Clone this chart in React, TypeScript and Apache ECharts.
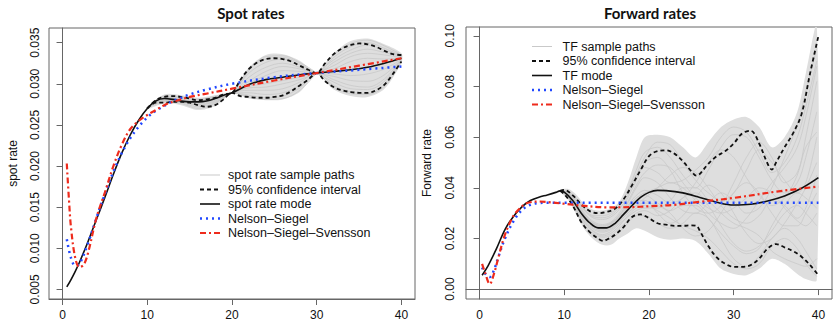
import React, { useEffect, useRef } from "react";
import * as echarts from "echarts";

// ---------------- Spot rates panel ----------------
const xTicks = [0, 10, 20, 30, 40];
const spotYTicks = [0.005, 0.01, 0.015, 0.02, 0.025, 0.03, 0.035];
const fwdYTicks = [0, 0.02, 0.04, 0.06, 0.08, 0.1];

const spotModeX = [0.5, 1, 1.5, 2, 3, 4, 5, 6, 7, 8, 9, 10, 11, 12, 13, 14, 15, 16, 17, 18, 19, 20, 22, 24, 26, 28, 30, 32, 34, 36, 38, 40];
const spotModeY = [0.0053, 0.0062, 0.0072, 0.0083, 0.0108, 0.0135, 0.0162, 0.019, 0.0216, 0.0238, 0.0256, 0.027, 0.0279, 0.0282, 0.0281, 0.0279, 0.0278, 0.0278, 0.0279, 0.0282, 0.0286, 0.0289, 0.0299, 0.0305, 0.0308, 0.0311, 0.0313, 0.0315, 0.0317, 0.032, 0.0325, 0.0331];

const spotCIX = [10, 11, 12, 13, 14, 15, 16, 17, 18, 19, 20, 21, 22, 23, 24, 25, 26, 27, 28, 29, 30, 31, 32, 33, 34, 35, 36, 37, 38, 39, 40];
const spotCIUpper = [0.027, 0.028, 0.0284, 0.0285, 0.0284, 0.0282, 0.028, 0.0281, 0.0283, 0.0287, 0.0289, 0.0305, 0.0318, 0.0326, 0.033, 0.0331, 0.033, 0.0327, 0.0322, 0.0317, 0.0313, 0.0325, 0.0336, 0.0343, 0.0347, 0.0349, 0.0348, 0.0345, 0.034, 0.0336, 0.0335];
const spotCILower = [0.027, 0.0277, 0.0277, 0.0278, 0.0278, 0.0277, 0.0274, 0.0272, 0.0274, 0.0281, 0.0289, 0.0285, 0.0284, 0.0283, 0.0283, 0.0284, 0.0286, 0.0291, 0.0298, 0.0305, 0.0313, 0.0303, 0.0296, 0.0292, 0.029, 0.0289, 0.0289, 0.0292, 0.0299, 0.0312, 0.0327];

const spotNSX = [0.5, 1, 1.5, 2, 3, 4, 5, 6, 7, 8, 9, 10, 11, 12, 13, 14, 15, 17, 20, 25, 30, 35, 40];
const spotNSY = [0.0111, 0.0088, 0.0079, 0.0081, 0.0106, 0.0137, 0.0166, 0.0193, 0.0216, 0.0234, 0.0248, 0.0259, 0.0267, 0.0273, 0.0279, 0.0283, 0.0287, 0.0293, 0.03, 0.0308, 0.0313, 0.0317, 0.0321];

const spotNSSX = [0.5, 0.75, 1, 1.5, 2, 2.5, 3, 4, 5, 6, 7, 8, 9, 10, 11, 12, 13, 14, 15, 17, 20, 25, 30, 35, 40];
const spotNSSY = [0.0203, 0.016, 0.0125, 0.0088, 0.0077, 0.008, 0.0094, 0.0137, 0.0168, 0.02, 0.0226, 0.0245, 0.0255, 0.0262, 0.0268, 0.0274, 0.0278, 0.0281, 0.0284, 0.0288, 0.0294, 0.0304, 0.0313, 0.0322, 0.0331];

// sample paths (grid of maturities)
const spotSampleX = [10, 12, 14, 16, 18, 20, 22, 24, 26, 28, 30, 32, 34, 36, 38, 40];
const spotEnvUpper = [0.0271, 0.0287, 0.0286, 0.0283, 0.0286, 0.029, 0.032, 0.0335, 0.0336, 0.0328, 0.0314, 0.0337, 0.0352, 0.0355, 0.0348, 0.0337];
const spotEnvLower = [0.0269, 0.0276, 0.0274, 0.0268, 0.0273, 0.0288, 0.0282, 0.028, 0.0281, 0.029, 0.0312, 0.0293, 0.0285, 0.0284, 0.0294, 0.0326];
const spotS1 = [0.027, 0.0285, 0.0284, 0.0281, 0.0284, 0.0289, 0.0318, 0.033, 0.0332, 0.0325, 0.0313, 0.0332, 0.0345, 0.035, 0.0343, 0.0334];
const spotS2 = [0.027, 0.0278, 0.0276, 0.027, 0.0276, 0.0289, 0.0286, 0.0283, 0.0285, 0.0295, 0.0313, 0.0298, 0.029, 0.0288, 0.03, 0.0328];
const spotS3 = [0.027, 0.0283, 0.0282, 0.0279, 0.0283, 0.0289, 0.0308, 0.032, 0.0325, 0.032, 0.0313, 0.0326, 0.0337, 0.0342, 0.0338, 0.0333];
const spotS4 = [0.027, 0.028, 0.0278, 0.0274, 0.0279, 0.0289, 0.0292, 0.0292, 0.0294, 0.0302, 0.0313, 0.0305, 0.0298, 0.0296, 0.0306, 0.033];
const spotS5 = [0.027, 0.0282, 0.028, 0.0277, 0.0281, 0.0289, 0.03, 0.031, 0.0316, 0.0315, 0.0313, 0.0318, 0.0327, 0.0331, 0.033, 0.0332];
const spotS6 = [0.027, 0.0281, 0.0279, 0.0276, 0.028, 0.0289, 0.0297, 0.03, 0.0304, 0.0308, 0.0313, 0.0312, 0.031, 0.0312, 0.0318, 0.033];
const spotS7 = [0.027, 0.0284, 0.0281, 0.0275, 0.0278, 0.0289, 0.0313, 0.0326, 0.033, 0.0323, 0.0313, 0.0302, 0.0294, 0.0293, 0.0303, 0.0329];
const spotS8 = [0.027, 0.0279, 0.0279, 0.028, 0.0285, 0.0289, 0.0289, 0.0287, 0.0289, 0.0298, 0.0313, 0.0329, 0.0341, 0.0347, 0.0341, 0.0333];
const spotS9 = [0.027, 0.0282, 0.0283, 0.0281, 0.0282, 0.0289, 0.0303, 0.0315, 0.0321, 0.0318, 0.0313, 0.0309, 0.0304, 0.0303, 0.0311, 0.033];
const spotS10 = [0.027, 0.028, 0.0277, 0.0272, 0.0277, 0.0289, 0.0295, 0.0296, 0.03, 0.0305, 0.0313, 0.0322, 0.0333, 0.0337, 0.0335, 0.0332];
const spotS11 = [0.027, 0.0283, 0.0281, 0.0278, 0.0282, 0.0289, 0.0284, 0.0281, 0.0282, 0.0292, 0.0313, 0.0335, 0.0349, 0.0353, 0.0346, 0.0335];
const spotS12 = [0.027, 0.0281, 0.028, 0.0279, 0.0283, 0.0289, 0.0316, 0.0333, 0.0334, 0.0326, 0.0313, 0.0296, 0.0288, 0.0287, 0.0297, 0.0327];
const spotSamples = [spotS1, spotS2, spotS3, spotS4, spotS5, spotS6, spotS7, spotS8, spotS9, spotS10, spotS11, spotS12];

// ---------------- Forward rates panel ----------------
const fwdModeX = [0.3, 1, 2, 3, 4, 5, 6, 7, 8, 9, 9.5, 10, 11, 12, 13, 14, 15, 16, 17, 18, 19, 20, 21, 22, 24, 26, 28, 30, 32, 34, 36, 38, 40];
const fwdModeY = [0.0055, 0.0092, 0.016, 0.0235, 0.0287, 0.0325, 0.035, 0.0363, 0.0372, 0.0382, 0.0388, 0.0383, 0.035, 0.03, 0.0262, 0.0242, 0.0242, 0.026, 0.0295, 0.033, 0.0362, 0.0382, 0.039, 0.0389, 0.038, 0.0362, 0.0343, 0.0332, 0.0335, 0.0348, 0.0368, 0.0398, 0.044];

const fwdCIUpperX = [9.5, 10, 11, 12, 13, 14, 15, 16, 17, 18, 19, 20, 21, 22, 23, 24, 25, 25.6, 26, 27, 28, 29, 30, 31, 32, 33, 34, 34.5, 35, 36, 37, 38, 39, 40];
const fwdCIUpper = [0.0388, 0.0392, 0.037, 0.0335, 0.0308, 0.03, 0.0305, 0.0318, 0.0355, 0.041, 0.047, 0.0525, 0.0545, 0.0548, 0.0535, 0.0505, 0.0465, 0.0448, 0.0455, 0.0495, 0.0525, 0.0545, 0.0575, 0.0615, 0.0625, 0.0575, 0.0495, 0.0472, 0.05, 0.056, 0.0615, 0.069, 0.085, 0.1];
const fwdCILowerX = [9.5, 10, 11, 12, 13, 14, 14.6, 15, 16, 17, 18, 19, 20, 21, 22, 23, 24, 25, 25.6, 26, 27, 28, 29, 30, 31, 32, 33, 34, 35, 36, 37, 38, 39, 40];
const fwdCILower = [0.0388, 0.0375, 0.033, 0.0265, 0.0225, 0.02, 0.019, 0.0195, 0.0215, 0.0245, 0.0285, 0.0295, 0.028, 0.026, 0.0255, 0.025, 0.025, 0.0252, 0.025, 0.023, 0.017, 0.0125, 0.01, 0.0088, 0.0088, 0.0095, 0.012, 0.016, 0.0178, 0.0165, 0.015, 0.0128, 0.0095, 0.0055];

const fwdNSX = [0.3, 0.7, 1.2, 1.7, 2.2, 3, 4, 5, 6, 7, 8, 10, 20, 30, 40];
const fwdNSY = [0.0085, 0.006, 0.0048, 0.0075, 0.0125, 0.02, 0.0268, 0.0312, 0.0333, 0.034, 0.0341, 0.0341, 0.0341, 0.0341, 0.0341];

const fwdNSSX = [0.3, 0.7, 1.2, 1.7, 2.2, 3, 4, 4.5, 5.3, 6, 7, 8, 10, 12, 15, 18, 20, 23, 26, 30, 35, 40];
const fwdNSSY = [0.01, 0.006, 0.002, 0.006, 0.0122, 0.0215, 0.029, 0.031, 0.0335, 0.0343, 0.0346, 0.0344, 0.0337, 0.033, 0.0323, 0.0324, 0.0327, 0.0333, 0.0345, 0.036, 0.0385, 0.0405];

const fwdSampleX = [9.5, 10.5, 11.5, 12.5, 13.5, 14.5, 15.5, 16.5, 17.5, 18.5, 19.5, 21, 22.5, 24, 25.5, 27, 28.5, 30, 31.5, 33, 34.5, 36, 37.5, 38.5, 39.8];
const fwdEnvUpper = [0.0392, 0.0395, 0.037, 0.033, 0.0312, 0.031, 0.0318, 0.0345, 0.042, 0.052, 0.06, 0.061, 0.06, 0.056, 0.052, 0.058, 0.064, 0.067, 0.068, 0.064, 0.056, 0.06, 0.07, 0.085, 0.104];
const fwdEnvLower = [0.0385, 0.035, 0.029, 0.023, 0.0195, 0.0175, 0.0175, 0.02, 0.022, 0.024, 0.023, 0.0205, 0.0195, 0.02, 0.019, 0.014, 0.008, 0.006, 0.0055, 0.008, 0.012, 0.01, 0.006, 0.004, 0.0035];
const fwdS1 = [0.0388, 0.0385, 0.0355, 0.031, 0.029, 0.029, 0.03, 0.033, 0.039, 0.047, 0.054, 0.056, 0.052, 0.045, 0.04, 0.047, 0.056, 0.061, 0.06, 0.052, 0.043, 0.038, 0.042, 0.052, 0.07];
const fwdS2 = [0.0388, 0.036, 0.03, 0.0245, 0.021, 0.0195, 0.02, 0.0225, 0.026, 0.029, 0.029, 0.026, 0.024, 0.026, 0.03, 0.028, 0.02, 0.012, 0.009, 0.013, 0.02, 0.024, 0.02, 0.015, 0.008];
const fwdS3 = [0.0388, 0.0375, 0.033, 0.028, 0.025, 0.024, 0.0255, 0.029, 0.034, 0.04, 0.044, 0.042, 0.036, 0.031, 0.03, 0.034, 0.038, 0.035, 0.03, 0.032, 0.04, 0.052, 0.065, 0.078, 0.095];
const fwdS4 = [0.0388, 0.037, 0.032, 0.027, 0.024, 0.023, 0.024, 0.027, 0.03, 0.033, 0.036, 0.04, 0.045, 0.048, 0.046, 0.04, 0.033, 0.028, 0.026, 0.029, 0.035, 0.033, 0.028, 0.032, 0.045];
const fwdS5 = [0.0388, 0.038, 0.0345, 0.0295, 0.0265, 0.0255, 0.0265, 0.03, 0.036, 0.043, 0.05, 0.052, 0.047, 0.038, 0.032, 0.03, 0.033, 0.042, 0.052, 0.058, 0.052, 0.042, 0.046, 0.06, 0.082];
const fwdS6 = [0.0388, 0.0365, 0.031, 0.026, 0.0225, 0.021, 0.022, 0.025, 0.029, 0.032, 0.033, 0.031, 0.028, 0.025, 0.023, 0.02, 0.015, 0.01, 0.008, 0.01, 0.017, 0.02, 0.016, 0.01, 0.005];
const fwdS7 = [0.0388, 0.0378, 0.034, 0.029, 0.026, 0.025, 0.0262, 0.029, 0.033, 0.037, 0.039, 0.037, 0.034, 0.036, 0.042, 0.05, 0.055, 0.052, 0.044, 0.037, 0.033, 0.036, 0.045, 0.056, 0.062];
const fwdS8 = [0.0388, 0.0372, 0.0325, 0.0275, 0.0245, 0.0235, 0.0245, 0.0275, 0.0315, 0.035, 0.035, 0.03, 0.026, 0.029, 0.036, 0.041, 0.038, 0.03, 0.022, 0.018, 0.02, 0.026, 0.034, 0.04, 0.05];
const fwdS9 = [0.0388, 0.0382, 0.035, 0.0305, 0.028, 0.0275, 0.0285, 0.0315, 0.037, 0.045, 0.052, 0.058, 0.057, 0.05, 0.043, 0.038, 0.035, 0.038, 0.047, 0.055, 0.05, 0.043, 0.038, 0.042, 0.06];
const fwdS10 = [0.0388, 0.0368, 0.0315, 0.0265, 0.0235, 0.0225, 0.0235, 0.0265, 0.03, 0.033, 0.034, 0.033, 0.03, 0.024, 0.021, 0.023, 0.03, 0.038, 0.042, 0.038, 0.03, 0.025, 0.025, 0.03, 0.038];
const fwdS11 = [0.0388, 0.0376, 0.0335, 0.0285, 0.0255, 0.0245, 0.0258, 0.0285, 0.0325, 0.036, 0.038, 0.04, 0.042, 0.04, 0.035, 0.03, 0.026, 0.024, 0.028, 0.035, 0.042, 0.048, 0.056, 0.068, 0.088];
const fwdS12 = [0.0388, 0.0362, 0.0305, 0.025, 0.0218, 0.0205, 0.0212, 0.024, 0.027, 0.03, 0.031, 0.029, 0.031, 0.036, 0.038, 0.033, 0.025, 0.018, 0.015, 0.017, 0.023, 0.03, 0.033, 0.03, 0.025];
const fwdS13 = [0.0388, 0.0384, 0.0352, 0.0308, 0.0285, 0.0282, 0.0292, 0.0325, 0.0385, 0.045, 0.048, 0.046, 0.042, 0.043, 0.047, 0.052, 0.06, 0.064, 0.062, 0.054, 0.046, 0.05, 0.06, 0.072, 0.09];
const fwdS14 = [0.0388, 0.0374, 0.0328, 0.0278, 0.0248, 0.0238, 0.0248, 0.0278, 0.032, 0.036, 0.037, 0.034, 0.031, 0.033, 0.033, 0.028, 0.022, 0.017, 0.014, 0.016, 0.025, 0.033, 0.038, 0.036, 0.032];
const fwdS15 = [0.0388, 0.0379, 0.0338, 0.0288, 0.0258, 0.0248, 0.026, 0.0292, 0.0345, 0.041, 0.046, 0.049, 0.048, 0.042, 0.036, 0.032, 0.03, 0.032, 0.036, 0.04, 0.038, 0.032, 0.027, 0.025, 0.03];
const fwdS16 = [0.0388, 0.0366, 0.0312, 0.0258, 0.0228, 0.0215, 0.0228, 0.0258, 0.0285, 0.031, 0.032, 0.032, 0.035, 0.04, 0.04, 0.035, 0.03, 0.026, 0.024, 0.021, 0.015, 0.012, 0.01, 0.009, 0.012];
const fwdSamples = [fwdS1, fwdS2, fwdS3, fwdS4, fwdS5, fwdS6, fwdS7, fwdS8, fwdS9, fwdS10, fwdS11, fwdS12, fwdS13, fwdS14, fwdS15, fwdS16];

const spotLegend = ["spot rate sample paths", "95% confidence interval", "spot rate mode", "Nelson–Siegel", "Nelson–Siegel–Svensson"];
const fwdLegend = ["TF sample paths", "95% confidence interval", "TF mode", "Nelson–Siegel", "Nelson–Siegel–Svensson"];

// ---------------- styles ----------------
const GRAY = "#c9c9c9";
const BAND = "#dedede";
const BLUE = "#2148ff";
const RED = "#ee2b1c";
const BOX = "#666666";
const FONT = "Liberation Sans";

const zip = (xs: number[], ys: number[]) => xs.map((x, i) => [x, ys[i]]);

const legendStyles = [
  { stroke: GRAY, lineWidth: 1, lineDash: null as any },
  { stroke: "#111", lineWidth: 1.8, lineDash: [4, 3] },
  { stroke: "#111", lineWidth: 1.6, lineDash: null as any },
  { stroke: BLUE, lineWidth: 2.5, lineDash: [2, 4] },
  { stroke: RED, lineWidth: 2.2, lineDash: [6, 3, 2, 3] },
];

function legendGraphics(labels: string[], x0: number, x1: number, tx: number, ys: number[]) {
  const out: any[] = [];
  labels.forEach((lab, i) => {
    out.push({
      type: "line",
      silent: true,
      shape: { x1: x0, y1: ys[i], x2: x1, y2: ys[i] },
      style: { ...legendStyles[i], lineCap: "butt" },
    });
    out.push({
      type: "text",
      silent: true,
      x: tx,
      y: ys[i],
      style: { text: lab, fill: "#111", font: `12.5px '${FONT}'`, align: "left", verticalAlign: "middle" },
    });
  });
  return out;
}

function bandSeries(idx: number, xs: number[], up: number[], lo: number[]) {
  return {
    type: "custom",
    xAxisIndex: idx,
    yAxisIndex: idx,
    silent: true,
    clip: true,
    data: [[xs[0], up[0]]],
    renderItem: (_p: any, api: any) => {
      const top = xs.map((x, i) => api.coord([x, up[i]]));
      const bot = xs.map((x, i) => api.coord([x, lo[i]])).reverse();
      return {
        type: "polygon",
        shape: { points: top.concat(bot), smooth: 0.3 },
        style: { fill: BAND },
      };
    },
  };
}

function lineSeries(idx: number, data: number[][], style: any, smooth: number | boolean = 0.35) {
  return {
    type: "line",
    xAxisIndex: idx,
    yAxisIndex: idx,
    data,
    showSymbol: false,
    symbol: "none",
    smooth,
    silent: true,
    lineStyle: style,
  };
}

function xAxisCfg(gridIndex: number) {
  return {
    type: "value",
    gridIndex,
    min: -1.6,
    max: 41.6,
    splitLine: { show: false },
    axisLine: { show: true, lineStyle: { color: BOX, width: 1 } },
    axisTick: { show: true, inside: false, length: 6, customValues: xTicks, lineStyle: { color: BOX } },
    axisLabel: { customValues: xTicks, margin: 10, fontSize: 12, fontFamily: FONT, color: "#111" },
  };
}

function yAxisCfg(gridIndex: number, min: number, max: number, ticks: number[], digits: number, name: string, nameGap: number, margin: number) {
  return {
    type: "value",
    gridIndex,
    min,
    max,
    name,
    nameLocation: "middle",
    nameGap,
    nameTextStyle: { fontSize: 12, fontFamily: FONT, color: "#111" },
    splitLine: { show: false },
    axisLine: { show: true, lineStyle: { color: BOX, width: 1 } },
    axisTick: { show: true, inside: false, length: 6, customValues: ticks, lineStyle: { color: BOX } },
    axisLabel: {
      customValues: ticks,
      rotate: 90,
      margin,
      fontSize: 12,
      fontFamily: FONT,
      color: "#111",
      formatter: (v: number) => v.toFixed(digits),
    },
  };
}

export default function App() {
  const ref = useRef<HTMLDivElement>(null);
  useEffect(() => {
    if (!ref.current) return;
    const chart = echarts.init(ref.current, null, { renderer: "svg" });

    const series: any[] = [];
    // Spot panel
    series.push(bandSeries(0, spotSampleX, spotEnvUpper, spotEnvLower));
    spotSamples.forEach((s) => series.push(lineSeries(0, zip(spotSampleX, s), { color: GRAY, width: 0.8 })));
    series.push(lineSeries(0, zip(spotCIX, spotCIUpper), { color: "#111", width: 1.8, type: [4, 3] }));
    series.push(lineSeries(0, zip(spotCIX, spotCILower), { color: "#111", width: 1.8, type: [4, 3] }));
    series.push(lineSeries(0, zip(spotModeX, spotModeY), { color: "#111", width: 1.6 }));
    series.push(lineSeries(0, zip(spotNSX, spotNSY), { color: BLUE, width: 2.5, type: [2, 4] }));
    series.push(lineSeries(0, zip(spotNSSX, spotNSSY), { color: RED, width: 2.2, type: [6, 3, 2, 3] }));
    // Forward panel
    series.push(bandSeries(1, fwdSampleX, fwdEnvUpper, fwdEnvLower));
    fwdSamples.forEach((s) => series.push(lineSeries(1, zip(fwdSampleX, s), { color: GRAY, width: 0.8 })));
    series.push(lineSeries(1, zip(fwdCIUpperX, fwdCIUpper), { color: "#111", width: 1.8, type: [4, 3] }));
    series.push(lineSeries(1, zip(fwdCILowerX, fwdCILower), { color: "#111", width: 1.8, type: [4, 3] }));
    series.push(lineSeries(1, zip(fwdModeX, fwdModeY), { color: "#111", width: 1.6 }));
    series.push(lineSeries(1, zip(fwdNSX, fwdNSY), { color: BLUE, width: 2.5, type: [2, 4] }));
    series.push(lineSeries(1, zip(fwdNSSX, fwdNSSY), { color: RED, width: 2.2, type: [6, 3, 2, 3] }));

    const graphics: any[] = [
      {
        type: "text",
        x: 251,
        y: 13,
        silent: true,
        style: { text: "Spot rates", fill: "#111", font: "bold 15px Lato", align: "center", verticalAlign: "middle" },
      },
      {
        type: "text",
        x: 650,
        y: 13,
        silent: true,
        style: { text: "Forward rates", fill: "#111", font: "bold 15px Lato", align: "center", verticalAlign: "middle" },
      },
      ...legendGraphics(spotLegend, 200, 220, 228, [175, 189.5, 204, 218.5, 233]),
      ...legendGraphics(fwdLegend, 532, 552, 562.5, [46.5, 61, 75.5, 90, 104.5]),
    ];

    chart.setOption({
      animation: false,
      backgroundColor: "#ffffff",
      grid: [
        { left: 49, top: 28, width: 366, height: 271, show: true, borderColor: BOX, borderWidth: 1, backgroundColor: "transparent" },
        { left: 466, top: 27, width: 366, height: 273, show: true, borderColor: BOX, borderWidth: 1, backgroundColor: "transparent" },
      ],
      xAxis: [xAxisCfg(0), xAxisCfg(1)],
      yAxis: [
        yAxisCfg(0, 0.00383, 0.03678, spotYTicks, 3, "spot rate", 30, 8),
        yAxisCfg(1, -0.0039, 0.1035, fwdYTicks, 2, "Forward rate", 33, 10),
      ],
      series,
      graphic: graphics,
    });
    return () => chart.dispose();
  }, []);
  return <div ref={ref} style={{ position: "absolute", left: 0, top: 0, width: 833, height: 321 }} />;
}
